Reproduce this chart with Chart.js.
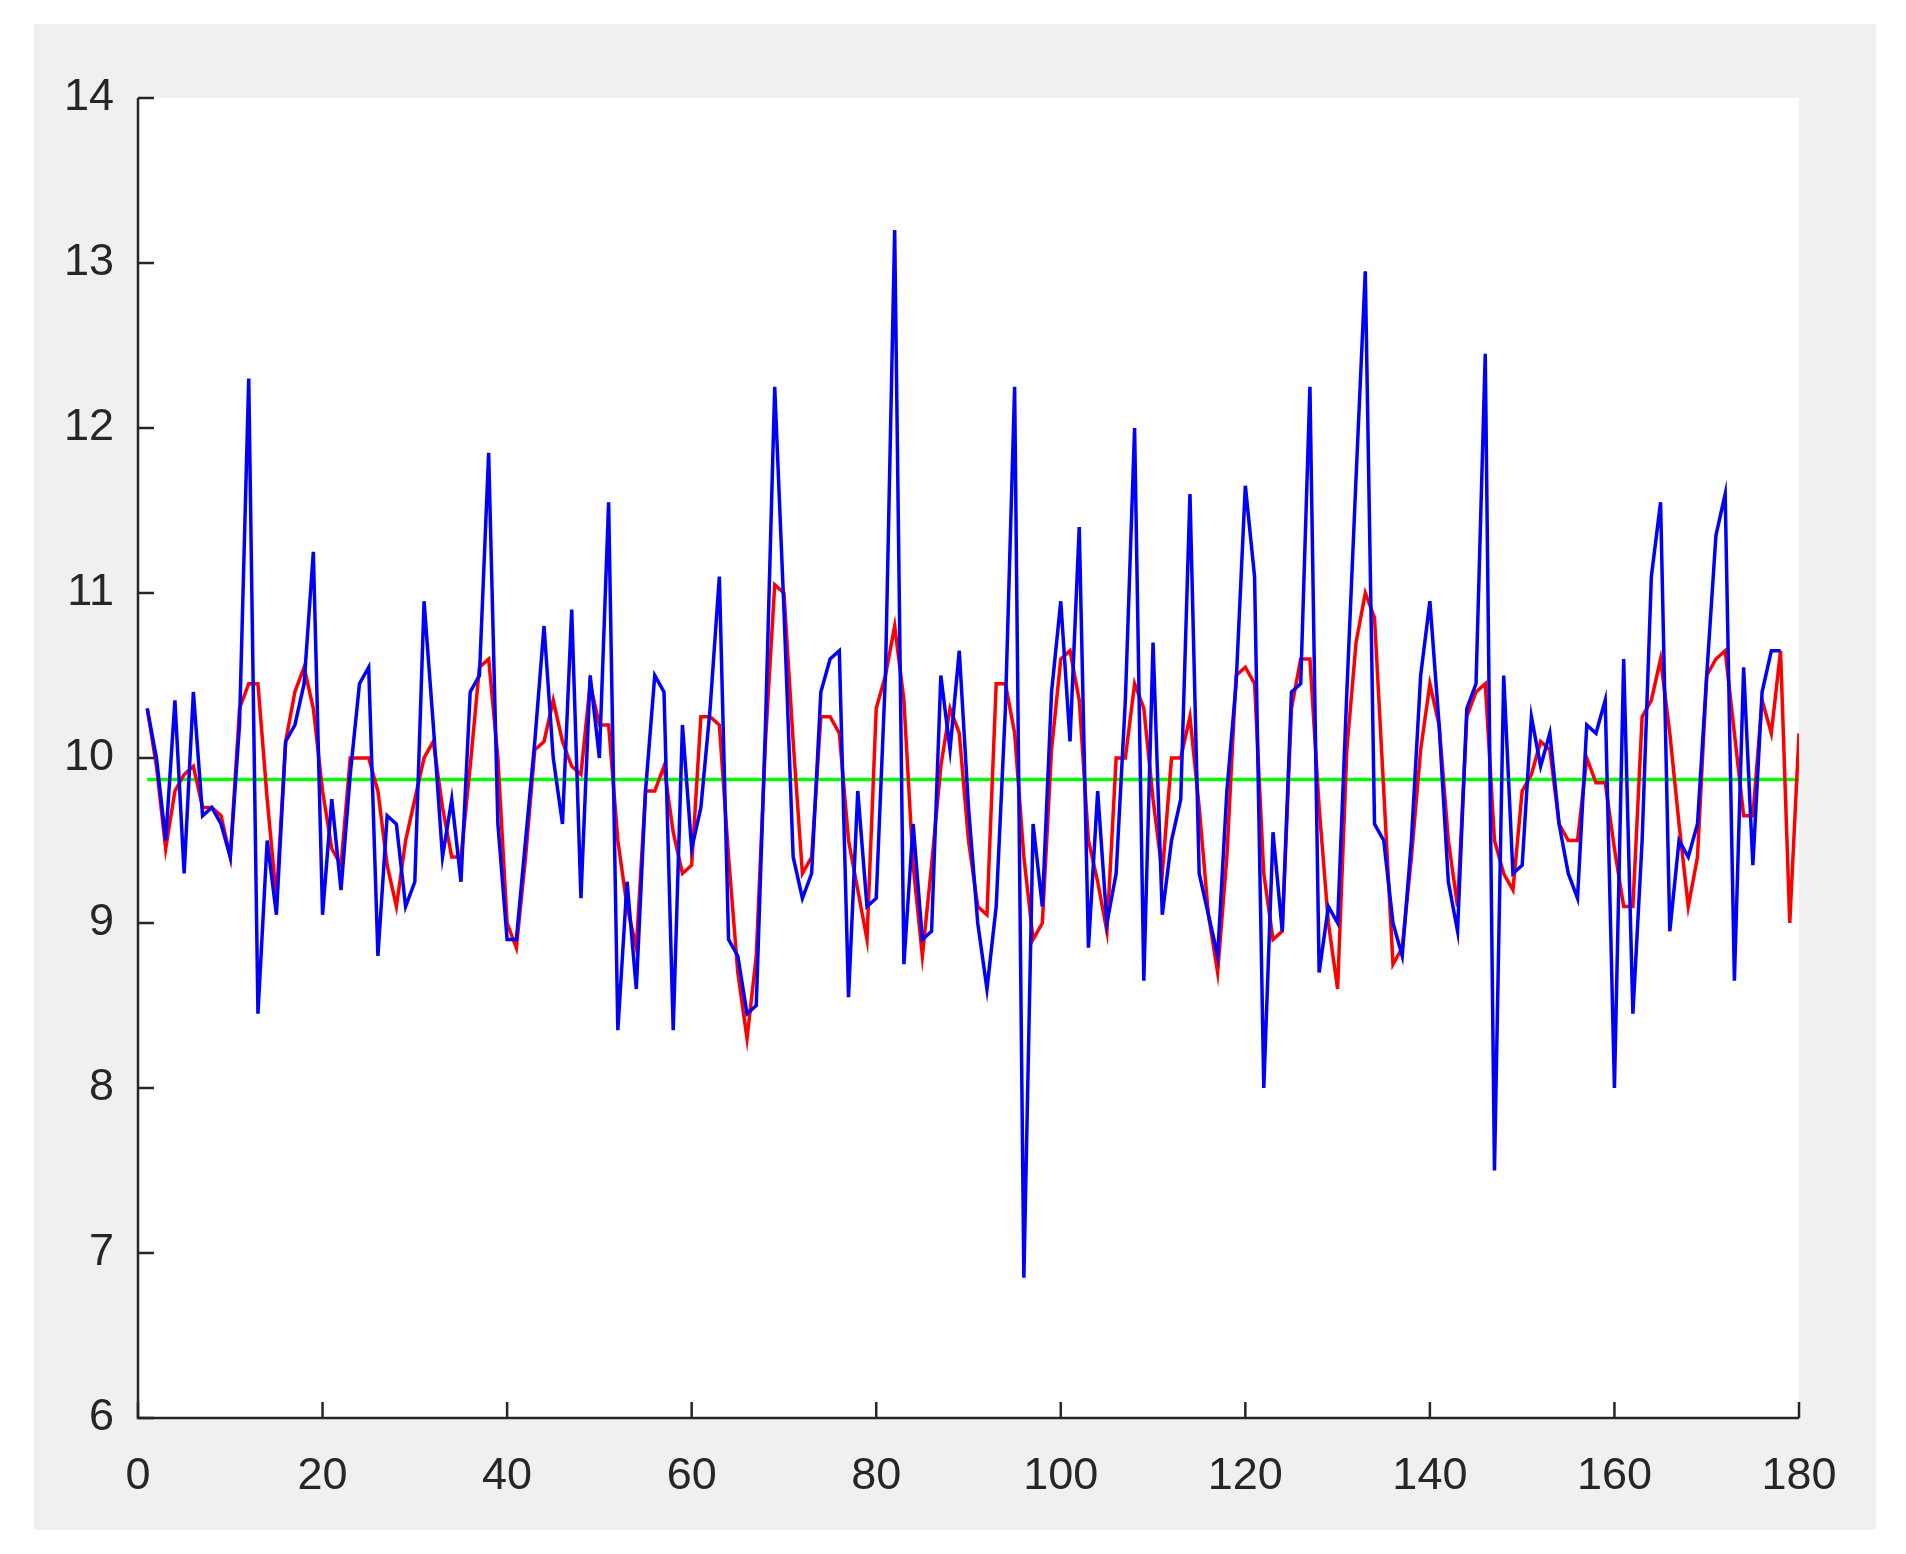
<!DOCTYPE html>
<html><head><meta charset="utf-8">
<script src="https://cdn.jsdelivr.net/npm/chart.js@4"></script>
<style>html,body{margin:0;padding:0;background:#fff;overflow:hidden}#c{display:block}</style>
</head><body><canvas id="c" width="1906" height="1554"></canvas>
<script>
const xTicks=[0,20,40,60,80,100,120,140,160,180];
const yTicks=[6,7,8,9,10,11,12,13,14];
const meanLevel=9.87;
const blueValues=[10.3,10.0,9.5,10.35,9.3,10.4,9.65,9.7,9.6,9.4,10.2,12.3,8.45,9.5,9.05,10.1,10.2,10.45,11.25,9.05,
9.75,9.2,9.9,10.45,10.55,8.8,9.65,9.6,9.1,9.25,10.95,10.2,9.4,9.75,9.25,10.4,10.5,11.85,9.6,8.9,
8.9,9.5,10.1,10.8,10.0,9.6,10.9,9.15,10.5,10.0,11.55,8.35,9.25,8.6,9.8,10.5,10.4,8.35,10.2,9.45,
9.7,10.3,11.1,8.9,8.8,8.45,8.5,10.2,12.25,10.9,9.4,9.15,9.3,10.4,10.6,10.65,8.55,9.8,9.1,9.15,
10.5,13.2,8.75,9.6,8.9,8.95,10.5,10.05,10.65,9.7,9.0,8.6,9.1,10.3,12.25,6.85,9.6,9.1,10.4,10.95,
10.1,11.4,8.85,9.8,9.0,9.3,10.35,12.0,8.65,10.7,9.05,9.5,9.75,11.6,9.3,9.05,8.8,9.8,10.45,11.65,
11.1,8.0,9.55,8.95,10.4,10.45,12.25,8.7,9.1,9.0,10.4,11.7,12.95,9.6,9.5,9.0,8.8,9.5,10.5,10.95,
10.2,9.25,8.95,10.3,10.45,12.45,7.5,10.5,9.3,9.35,10.25,9.95,10.15,9.6,9.3,9.15,10.2,10.15,10.35,8.0,
10.6,8.45,9.5,11.1,11.55,8.95,9.5,9.4,9.6,10.5,11.35,11.6,8.65,10.55,9.35,10.4,10.65,10.65];
const redValues=[10.3,9.95,9.45,9.8,9.9,9.95,9.7,9.7,9.65,9.4,10.3,10.45,10.45,9.75,9.15,10.1,10.4,10.55,10.3,9.8,
9.45,9.35,10.0,10.0,10.0,9.8,9.35,9.1,9.5,9.75,10.0,10.1,9.7,9.4,9.4,9.95,10.55,10.6,10.0,9.0,
8.85,9.4,10.05,10.1,10.35,10.1,9.95,9.9,10.45,10.2,10.2,9.5,9.1,8.85,9.8,9.8,9.95,9.55,9.3,9.35,
10.25,10.25,10.2,9.4,8.7,8.3,8.8,10.1,11.05,11.0,10.1,9.3,9.4,10.25,10.25,10.15,9.5,9.2,8.9,10.3,
10.5,10.8,10.35,9.35,8.8,9.35,9.95,10.3,10.15,9.5,9.1,9.05,10.45,10.45,10.15,9.4,8.9,9.0,10.05,10.6,
10.65,10.35,9.5,9.25,8.95,10.0,10.0,10.45,10.3,9.75,9.3,10.0,10.0,10.25,9.7,9.05,8.7,9.4,10.5,10.55,
10.45,9.3,8.9,8.95,10.3,10.6,10.6,9.7,9.0,8.6,10.05,10.7,11.0,10.85,9.8,8.75,8.85,9.4,10.05,10.45,
10.2,9.5,9.1,10.25,10.4,10.45,9.5,9.3,9.2,9.8,9.9,10.1,10.05,9.6,9.5,9.5,10.0,9.85,9.85,9.45,
9.1,9.1,10.25,10.35,10.6,10.15,9.6,9.1,9.4,10.5,10.6,10.65,10.15,9.65,9.65,10.35,10.15,10.65,9.0,10.15];
const pts=a=>a.map((v,i)=>({x:i+1,y:v}));
const frame={id:'frame',beforeDraw(c){const g=c.ctx,a=c.chartArea;g.save();g.fillStyle='#fff';g.fillRect(0,0,c.width,c.height);
g.fillStyle='#f0f0f0';g.fillRect(34,24,1842,1506);g.fillStyle='#fff';g.fillRect(a.left,a.top,a.right-a.left,a.bottom-a.top);g.restore();},
afterDraw(c){const g=c.ctx,a=c.chartArea,xs=c.scales.x,ys=c.scales.y;g.save();g.strokeStyle='#262626';g.lineWidth=2.5;g.beginPath();
g.moveTo(a.left,a.top);g.lineTo(a.left,a.bottom);g.lineTo(a.right,a.bottom);g.stroke();g.beginPath();
xTicks.forEach(v=>{const p=xs.getPixelForValue(v);g.moveTo(p,a.bottom);g.lineTo(p,a.bottom-16);});
yTicks.forEach(v=>{const p=ys.getPixelForValue(v);g.moveTo(a.left,p);g.lineTo(a.left+16,p);});g.stroke();g.restore();}};
new Chart(document.getElementById('c'),{type:'line',
data:{datasets:[
{data:pts(blueValues),borderColor:'#0000ff',borderWidth:3.5,pointRadius:0,tension:0},
{data:pts(redValues),borderColor:'#ff0000',borderWidth:3.5,pointRadius:0,tension:0},
{data:[{x:1,y:meanLevel},{x:180,y:meanLevel}],borderColor:'#00ff00',borderWidth:3.5,pointRadius:0}
]},
options:{responsive:false,animation:false,devicePixelRatio:1,
layout:{padding:{left:38,top:98,right:107,bottom:60}},
plugins:{legend:{display:false},tooltip:{enabled:false}},
scales:{
x:{type:'linear',min:0,max:180,afterBuildTicks:s=>{s.ticks=xTicks.map(v=>({value:v}));},afterFit:s=>{s.height=76;},
grid:{display:false,drawTicks:false},border:{display:false},ticks:{padding:32,color:'#262626',font:{family:'Liberation Sans',size:45},maxRotation:0}},
y:{min:6,max:14,afterBuildTicks:s=>{s.ticks=yTicks.map(v=>({value:v}));},afterFit:s=>{s.width=100;},
grid:{display:false,drawTicks:false},border:{display:false},ticks:{padding:24,color:'#262626',font:{family:'Liberation Sans',size:45}}}
}},plugins:[frame]});
</script></body></html>
